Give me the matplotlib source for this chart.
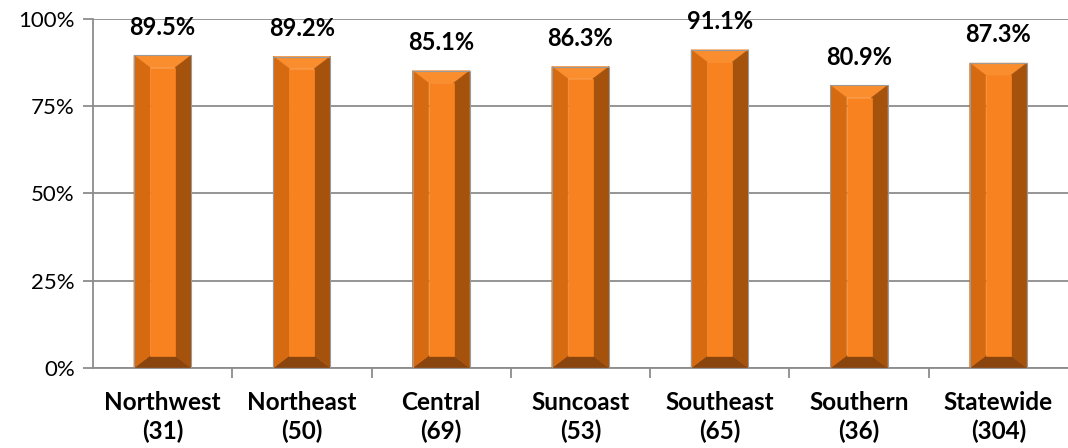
import numpy as np
import matplotlib.pyplot as plt
from matplotlib.patches import Polygon

# data
regions = ["Northwest", "Northeast", "Central", "Suncoast", "Southeast", "Southern", "Statewide"]
counts = [31, 50, 69, 53, 65, 36, 304]
pct = [89.5, 89.2, 85.1, 86.3, 91.1, 80.9, 87.3]
yticks = [0, 25, 50, 75, 100]

FONT = "Lato"
plt.rcParams["font.family"] = [FONT, "DejaVu Sans"]

# bevel colours
C_FRONT = "#F7821F"
C_TOP = "#FA8E2E"
C_LEFT = "#D66A10"
C_RIGHT = "#A5520D"
C_BOTTOM = "#8A450E"
C_EDGE = "#9A9A9A"

BAR_W = 0.41
BEV_X = 0.115   # data units (x)
BEV_Y = 3.5     # data units (y, percent)

fig = plt.figure(figsize=(10.68, 4.48), dpi=100)
ax = fig.add_axes([0.087, 0.179, 0.913, 0.779])

x = np.arange(len(regions))
ax.set_xlim(-0.5, len(regions) - 0.5)
ax.set_ylim(0, 100)

for xi, v in zip(x, pct):
    l, r = xi - BAR_W / 2, xi + BAR_W / 2
    il, ir = l + BEV_X, r - BEV_X
    it, ib = v - BEV_Y, BEV_Y
    faces = [
        ([(l, 0), (r, 0), (ir, ib), (il, ib)], C_BOTTOM),
        ([(l, v), (r, v), (ir, it), (il, it)], C_TOP),
        ([(l, 0), (il, ib), (il, it), (l, v)], C_LEFT),
        ([(r, 0), (ir, ib), (ir, it), (r, v)], C_RIGHT),
        ([(il, ib), (ir, ib), (ir, it), (il, it)], C_FRONT),
    ]
    for pts, c in faces:
        ax.add_patch(Polygon(pts, closed=True, facecolor=c, edgecolor=c,
                             linewidth=0.5, zorder=3))
    ax.add_patch(Polygon([(l, 0), (r, 0), (r, v), (l, v)], closed=True,
                         facecolor="none", edgecolor=C_EDGE, linewidth=0.8, zorder=4))
    ax.annotate(f"{v:.1f}%", (xi, v), xytext=(0, 12), textcoords="offset points",
                ha="center", va="bottom", fontsize=17, fontweight="bold", zorder=5)

ax.set_yticks(yticks)
ax.set_yticklabels([f"{t}%" for t in yticks], fontsize=16)
ax.set_xticks(x)
ax.set_xticklabels([f"{r}\n({n})" for r, n in zip(regions, counts)],
                   fontsize=17.5, fontweight="bold", linespacing=1.25)
ax.set_xticks(np.arange(len(regions) - 1) + 0.5, minor=True)

ax.grid(axis="y", color="#8C8C8C", linewidth=1.3, zorder=0)
ax.set_axisbelow(True)
for s in ["top", "right"]:
    ax.spines[s].set_visible(False)
for s in ["left", "bottom"]:
    ax.spines[s].set_color("#8C8C8C")
    ax.spines[s].set_linewidth(1.3)
ax.tick_params(axis="y", color="#8C8C8C", length=7, width=1.3, pad=6)
ax.tick_params(axis="x", which="major", length=0, pad=17)
ax.tick_params(axis="x", which="minor", color="#8C8C8C", length=7, width=1.3)

fig.savefig("out.png", dpi=100)
